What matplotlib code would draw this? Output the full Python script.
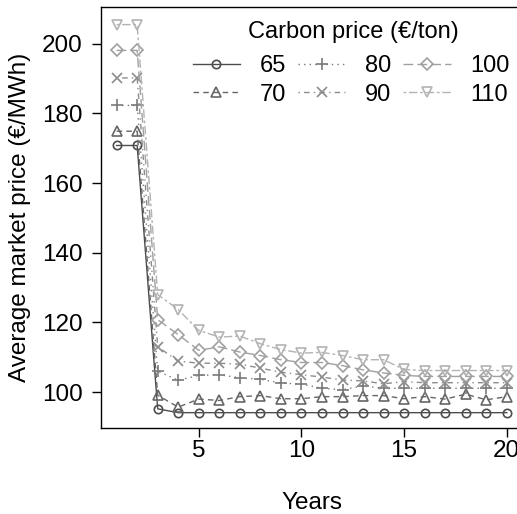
import matplotlib
matplotlib.use("Agg")
import matplotlib.pyplot as plt

plt.rcParams["font.family"] = ["Liberation Sans", "DejaVu Sans"]

# ==========================
# Data
# ==========================
years = list(range(1, 21))

price_65 = [170.8, 170.8, 95.2, 94.1, 94.1, 94.1, 94.1, 94.1, 94.1, 94.1,
            94.1, 94.1, 94.1, 94.1, 94.1, 94.1, 94.1, 94.1, 94.1, 94.1]
price_70 = [174.9, 174.9, 99.1, 95.7, 98.0, 97.6, 98.7, 99.0, 98.1, 98.1,
            98.7, 98.7, 99.0, 99.0, 98.1, 98.7, 98.0, 99.4, 97.8, 98.7]
price_80 = [182.3, 182.3, 106.0, 103.4, 104.8, 105.0, 104.1, 103.7, 102.6, 102.3,
            101.1, 100.7, 101.8, 101.1, 101.1, 101.1, 101.1, 101.1, 101.1, 101.1]
price_90 = [190.2, 190.2, 113.0, 108.9, 108.3, 108.3, 108.0, 106.9, 105.7, 105.0,
            104.3, 103.5, 103.2, 102.4, 103.0, 102.7, 102.7, 102.7, 102.7, 102.7]
price_100 = [198.1, 198.1, 120.8, 116.5, 112.0, 113.0, 111.5, 110.5, 109.3, 108.5,
             108.5, 107.6, 106.4, 105.5, 104.8, 104.5, 104.5, 104.5, 104.5, 104.5]
price_110 = [205.5, 205.5, 128.0, 123.7, 117.7, 115.8, 116.1, 113.9, 112.2, 111.2,
             111.4, 110.5, 109.3, 109.3, 106.5, 106.2, 106.2, 106.2, 106.2, 106.2]

labels = ["65", "70", "80", "90", "100", "110"]
series = [price_65, price_70, price_80, price_90, price_100, price_110]

colors = ["#4d4d4d", "#666666", "#7a7a7a", "#8c8c8c", "#a0a0a0", "#b3b3b3"]
markers = ["o", "^", "+", "x", "D", "v"]
linestyles = ["-", (0, (4, 3)), (0, (1, 3)), (0, (1, 3, 4, 3)),
              (0, (7, 3)), (0, (2, 2, 6, 2))]
marker_sizes = [6, 7, 9, 7, 6, 7]

FS = 17.5
LEG_FS = 17

# ==========================
# Plot
# ==========================
fig = plt.figure(figsize=(5.17, 5.14), dpi=100)
ax = fig.add_axes([0.1954, 0.168, 0.815, 0.818])

for y, lab, c, m, ls, ms in zip(series, labels, colors, markers, linestyles, marker_sizes):
    ax.plot(years, y, color=c, linestyle=ls, linewidth=1.0, marker=m,
            markersize=ms, markerfacecolor="none", markeredgecolor=c,
            markeredgewidth=1.2, label=lab)

ax.set_xlim(0.24, 20.76)
ax.set_ylim(89.8, 210.5)
ax.set_xticks([5, 10, 15, 20])
ax.set_yticks([100, 120, 140, 160, 180, 200])
ax.tick_params(direction="out", length=6.8, width=1, labelsize=FS)
ax.tick_params(axis="y", pad=6.5)
ax.tick_params(axis="x", pad=2)
for s in ax.spines.values():
    s.set_linewidth(1.0)

ax.set_xlabel("Years", fontsize=FS, labelpad=22)
ax.set_ylabel("Average market price (€/MWh)", fontsize=FS, labelpad=8)

# legend title as its own text, entries below it
fig.text(353 / 517, 1 - 32 / 514, "Carbon price (€/ton)", fontsize=LEG_FS,
         ha="center", va="center")
leg = ax.legend(ncol=3, frameon=False, fontsize=LEG_FS, loc="upper right",
                bbox_to_anchor=(510 / 517, 1 - 55 / 514),
                bbox_transform=fig.transFigure, borderpad=0, borderaxespad=0,
                handlelength=2.0, columnspacing=0.5, handletextpad=0.85,
                labelspacing=0.28)

fig.savefig("out.png", dpi=100)
